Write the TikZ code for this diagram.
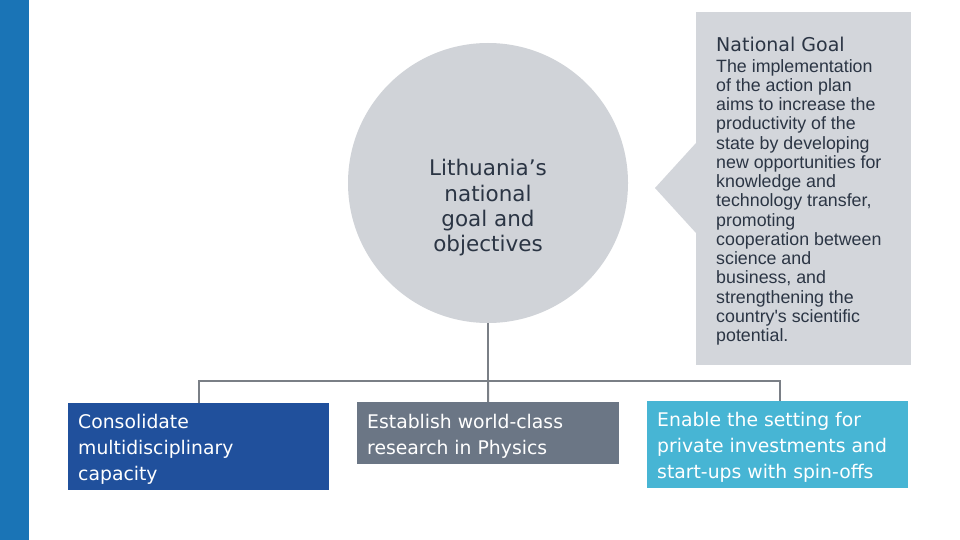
\documentclass[tikz,border=0pt]{standalone}
\usepackage{fontspec}
\setmainfont{Liberation Sans}
\newfontfamily\boxfont{DejaVu Sans}
\newfontfamily\bodyfont{Liberation Sans}
\definecolor{strip}{HTML}{1A74B6}
\definecolor{circfill}{HTML}{D0D3D8}
\definecolor{calfill}{HTML}{D3D6DB}
\definecolor{darktxt}{HTML}{2B3544}
\definecolor{linegrey}{HTML}{7A7F86}
\definecolor{bluebox}{HTML}{20509C}
\definecolor{greybox}{HTML}{6B7685}
\definecolor{cyanbox}{HTML}{47B5D4}
\tikzset{
  objbox/.style={anchor=north west, inner sep=0pt},
  objtext/.style={anchor=west, inner sep=0pt, align=left, xshift=10pt, yshift=-3pt,
    text=white, font=\boxfont\fontsize{18.8}{26}\selectfont},
  conn/.style={draw=linegrey, line width=2pt}
}
\begin{document}
\begin{tikzpicture}[x=1pt,y=-1pt]
\useasboundingbox (0,0) rectangle (960,540);
\fill[white] (0,0) rectangle (960,540);
\fill[strip] (0,0) rectangle (29,540);
% circle
\node[circle, fill=circfill, minimum size=280pt, inner sep=0pt] (circ) at (488,183) {};
\node[align=center, inner sep=0pt, text=darktxt,
  font=\boxfont\fontsize{21.5}{25.3}\selectfont] (circtxt) at (488,208)
  {Lithuania’s\\national\\goal and\\objectives};
% callout
\node[anchor=north west, fill=calfill, minimum width=215pt, minimum height=353pt,
  inner sep=0pt] (goal) at (696,12) {};
\fill[calfill] (696,143) -- (655,188) -- (696,233) -- cycle;
\node[anchor=west, inner sep=0pt, text=darktxt,
  font=\boxfont\fontsize{19}{20}\selectfont] (goalhead) at (716,44.5) {National Goal};
\node[anchor=north west, inner sep=0pt, align=left, text=darktxt,
  font=\bodyfont\fontsize{17.8}{19.25}\selectfont] (goaltxt) at (716,59)
  {The implementation\\
   of the action plan\\aims to increase the\\productivity of the\\state by developing\\
   new opportunities for\\knowledge and\\technology transfer,\\promoting\\
   cooperation between\\science and\\business, and\\strengthening the\\
   country's scientific\\potential.};
% boxes
\node[objbox, fill=bluebox, minimum width=261pt, minimum height=87pt] (b1) at (68,403) {};
\node[objtext] (t1) at (b1.west) {Consolidate\\multidisciplinary\\capacity};
\node[objbox, fill=greybox, minimum width=262pt, minimum height=62pt] (b2) at (357,402) {};
\node[objtext] (t2) at (b2.west) {Establish world-class\\research in Physics};
\node[objbox, fill=cyanbox, minimum width=261pt, minimum height=87pt] (b3) at (647,401) {};
\node[objtext] (t3) at (b3.west) {Enable the setting for\\private investments and\\start-ups with spin-offs};
% connectors
\coordinate (bus) at (488,381);
\draw[conn] (circ.south) -- (bus);
\draw[conn] (b1.north) |- (bus) -| ([xshift=2pt]b3.north);
\draw[conn] (bus) -- (b2.north);
\end{tikzpicture}
\end{document}
